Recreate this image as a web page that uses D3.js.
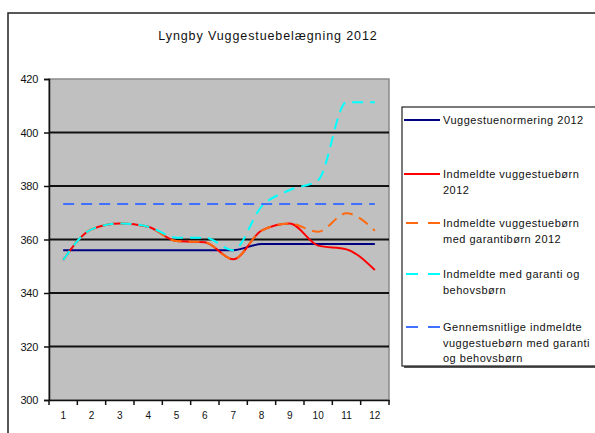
<!DOCTYPE html>
<html>
<head>
<meta charset="utf-8">
<script src="https://cdn.jsdelivr.net/npm/d3@7"></script>
<style>
  body { margin: 0; background: #fff; }
  svg { display: block; font-family: "Liberation Sans", Arial, sans-serif; }
</style>
</head>
<body>
<div id="svg-container"></div>
<script>
// data
const months = [1, 2, 3, 4, 5, 6, 7, 8, 9, 10, 11, 12];
const normering = [356, 356, 356, 356, 356, 356, 356, 358.3, 358.3, 358.3, 358.3, 358.3];
const indmeldte = [352.3, 363.8, 366, 364.8, 359.4, 359, 352.6, 363.3, 366, 357.7, 356.3, 348.6];
const medGaranti = [352.3, 363.8, 366, 364.8, 359.4, 359, 352.6, 363.3, 366, 362.9, 369.8, 363.3];
const medBehov = [352.3, 363.8, 366, 364.8, 360.7, 360.7, 356, 372.3, 378.5, 382.2, 411.3, 411.3];
const gennemsnit = [373.3, 373.3, 373.3, 373.3, 373.3, 373.3, 373.3, 373.3, 373.3, 373.3, 373.3, 373.3];
const yTicks = [300, 320, 340, 360, 380, 400, 420];
const title = "Lyngby Vuggestuebelægning 2012";

const series = [
  { name: ["Vuggestuenormering 2012"], values: normering, color: "#000080", dash: null },
  { name: ["Indmeldte vuggestuebørn", "2012"], values: indmeldte, color: "#ff0000", dash: null },
  { name: ["Indmeldte vuggestuebørn", "med garantibørn 2012"], values: medGaranti, color: "#ff6a10", dash: "11,7" },
  { name: ["Indmeldte med garanti og", "behovsbørn"], values: medBehov, color: "#00ffff", dash: "11,7" },
  { name: ["Gennemsnitlige indmeldte", "vuggestuebørn med garanti", "og behovsbørn"], values: gennemsnit, color: "#4070ff", dash: "11,7" },
];

const width = 595, height = 433;
const svg = d3.select("#svg-container").append("svg")
  .attr("width", width).attr("height", height);

const plot = { left: 49, right: 389, top: 79, bottom: 400 };

// outer border
svg.append("rect")
  .attr("x", 8).attr("y", 13)
  .attr("width", 600).attr("height", 440)
  .attr("fill", "none").attr("stroke", "#222").attr("stroke-width", 1.5);

// title
svg.append("text")
  .attr("x", 268).attr("y", 40)
  .attr("text-anchor", "middle")
  .attr("font-size", 12.5)
  .attr("letter-spacing", 0.9)
  .attr("fill", "#111")
  .text(title);

// scales
const xScale = d3.scaleBand().domain(months).range([plot.left, plot.right]);
const yScale = d3.scaleLinear().domain([300, 420]).range([plot.bottom, plot.top]);
const xc = (i) => xScale(months[i]) + xScale.bandwidth() / 2;

// plot background
svg.append("rect")
  .attr("x", plot.left).attr("y", plot.top)
  .attr("width", plot.right - plot.left).attr("height", plot.bottom - plot.top)
  .attr("fill", "#c0c0c0").attr("stroke", "#8a8a8a").attr("stroke-width", 1.5);

// gridlines
svg.append("g")
  .selectAll("line")
  .data(yTicks.filter((d) => d > 300 && d < 420))
  .join("line")
  .attr("x1", plot.left).attr("x2", plot.right)
  .attr("y1", (d) => yScale(d)).attr("y2", (d) => yScale(d))
  .attr("stroke", "#111").attr("stroke-width", 2);

// y axis
const yAxis = d3.axisLeft(yScale).tickValues(yTicks).tickSize(5).tickPadding(6);
svg.append("g")
  .attr("transform", `translate(${plot.left},0)`)
  .call(yAxis)
  .call((g) => g.select(".domain").attr("stroke", "#111").attr("stroke-width", 1.5))
  .call((g) => g.selectAll(".tick line").attr("stroke", "#111").attr("stroke-width", 1.5))
  .call((g) => g.selectAll("text")
    .attr("font-size", 11).attr("letter-spacing", -0.3).attr("fill", "#111")
    .style("font-family", "'Liberation Sans', Arial, sans-serif"));

// x axis
const xAxis = d3.axisBottom(xScale).tickSize(0).tickPadding(12).tickSizeOuter(0);
svg.append("g")
  .attr("transform", `translate(0,${plot.bottom})`)
  .call(xAxis)
  .call((g) => g.select(".domain").attr("stroke", "#111").attr("stroke-width", 1.5))
  .call((g) => g.selectAll("text")
    .attr("font-size", 10).attr("fill", "#111")
    .style("font-family", "'Liberation Sans', Arial, sans-serif"))
  .call((g) => g.selectAll(".edge")
    .data(months.map((m) => xScale(m)).concat([plot.right]))
    .join("line")
    .attr("class", "edge")
    .attr("x1", (d) => d).attr("x2", (d) => d)
    .attr("y1", 0).attr("y2", 5)
    .attr("stroke", "#111").attr("stroke-width", 1.5));

// lines
const line = d3.line()
  .x((d, i) => xc(i))
  .y((d) => yScale(d))
  .curve(d3.curveMonotoneX);

series.forEach((s) => {
  svg.append("path")
    .datum(s.values)
    .attr("fill", "none")
    .attr("stroke", s.color)
    .attr("stroke-width", 2)
    .attr("stroke-dasharray", s.dash)
    .attr("d", line);
});

// legend
const legend = svg.append("g");
legend.append("rect")
  .attr("x", 404).attr("y", 109)
  .attr("width", 200).attr("height", 259)
  .attr("fill", "#555");
legend.append("rect")
  .attr("x", 402).attr("y", 107)
  .attr("width", 200).attr("height", 259)
  .attr("fill", "#fff").attr("stroke", "#222").attr("stroke-width", 1.2);

const legendY = [120, 174, 223, 274, 327];
series.forEach((s, i) => {
  const y = legendY[i];
  legend.append("line")
    .attr("x1", 404).attr("x2", 440)
    .attr("y1", y).attr("y2", y)
    .attr("stroke", s.color).attr("stroke-width", 2)
    .attr("stroke-dasharray", s.dash ? "12,10" : null)
    .attr("stroke-dashoffset", s.dash ? -2 : null);
  legend.append("text")
    .attr("x", 443).attr("y", y + 4)
    .attr("font-size", 11)
    .attr("letter-spacing", 0.5)
    .attr("fill", "#111")
    .selectAll("tspan")
    .data(s.name)
    .join("tspan")
    .attr("x", 443)
    .attr("dy", (d, j) => (j === 0 ? 0 : 15.5))
    .text((d) => d);
});
</script>
</body>
</html>
